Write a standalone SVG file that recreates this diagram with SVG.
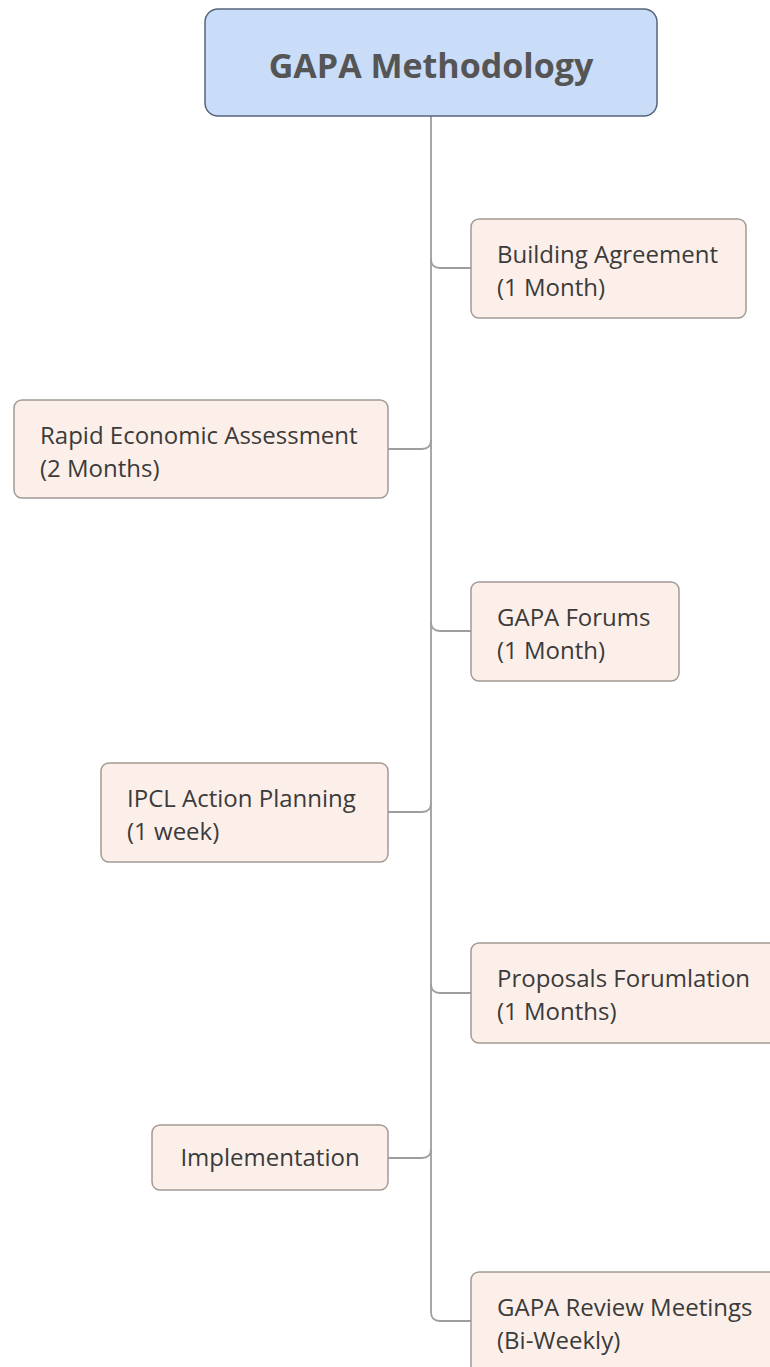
<svg xmlns="http://www.w3.org/2000/svg" width="770" height="1367" viewBox="0 0 770 1367">
<style>
.node rect.b{fill:#fcefe9;stroke:#a39a94;stroke-width:1.5}
.node text{font-family:"Open Sans","Liberation Sans",sans-serif;font-size:24px;fill:#3b3b3b}
.conn path{fill:none;stroke:#9e9e9e;stroke-width:1.8}
</style>
<rect width="770" height="1367" fill="#ffffff"/>
<g class="conn">
<path d="M431 116 V1312 Q431 1321 440 1321 H471"/>
<path d="M431 259 Q431 268 440 268 H471"/>
<path d="M388 449 H422 Q431 449 431 440"/>
<path d="M431 622 Q431 631 440 631 H471"/>
<path d="M388 812 H422 Q431 812 431 803"/>
<path d="M431 984 Q431 993 440 993 H471"/>
<path d="M388 1158 H422 Q431 1158 431 1149"/>
</g>
<g id="root">
<rect x="205" y="9" width="452" height="107" rx="13" fill="#c9dcf8" stroke="#56657a" stroke-width="1.5"/>
<text x="431" y="78" text-anchor="middle" font-family="'Open Sans','Liberation Sans',sans-serif" font-size="34" font-weight="bold" fill="#555555">GAPA Methodology</text>
</g>
<g id="n1" class="node">
<rect class="b" x="471" y="219" width="275" height="99" rx="8"/>
<text x="497" y="263">Building Agreement</text>
<text x="497" y="296">(1 Month)</text>
</g>
<g id="n2" class="node">
<rect class="b" x="14" y="400" width="374" height="98" rx="8"/>
<text x="40" y="444">Rapid Economic Assessment</text>
<text x="40" y="477">(2 Months)</text>
</g>
<g id="n3" class="node">
<rect class="b" x="471" y="582" width="208" height="99" rx="8"/>
<text x="497" y="626">GAPA Forums</text>
<text x="497" y="659">(1 Month)</text>
</g>
<g id="n4" class="node">
<rect class="b" x="101" y="763" width="287" height="99" rx="8"/>
<text x="127" y="807">IPCL Action Planning</text>
<text x="127" y="840">(1 week)</text>
</g>
<g id="n5" class="node">
<rect class="b" x="471" y="943" width="320" height="100" rx="8"/>
<text x="497" y="987">Proposals Forumlation</text>
<text x="497" y="1020">(1 Months)</text>
</g>
<g id="n6" class="node">
<rect class="b" x="152" y="1125" width="236" height="65" rx="8"/>
<text x="270" y="1166" text-anchor="middle">Implementation</text>
</g>
<g id="n7" class="node">
<rect class="b" x="471" y="1272" width="320" height="110" rx="8"/>
<text x="497" y="1316">GAPA Review Meetings</text>
<text x="497" y="1349">(Bi-Weekly)</text>
</g>
</svg>
